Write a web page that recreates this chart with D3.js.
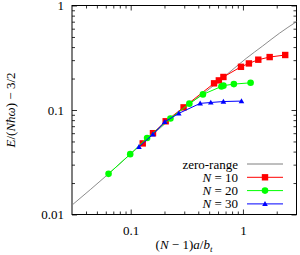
<!DOCTYPE html>
<html>
<head>
<meta charset="utf-8">
<script src="https://cdn.jsdelivr.net/npm/d3@7"></script>
<style>
  html, body { margin: 0; padding: 0; background: #fff; }
</style>
</head>
<body>
<div id="chart"></div>
<script>
const svgWidth = 300;
const svgHeight = 255;

// zero-range curve
const zeroX = [0.03, 0.0635, 0.1, 0.2, 0.3, 0.55, 0.767, 1.07, 1.5, 2.11, 3.0];
const zeroY = [0.0123, 0.0245, 0.038, 0.073, 0.105, 0.172, 0.232, 0.312, 0.41, 0.542, 0.70];

const n10X = [0.128, 0.158, 0.205, 0.296, 0.553, 0.61, 0.67, 0.96, 1.13, 1.37, 1.73, 2.38];
const n10Y = [0.0479, 0.060, 0.078, 0.106, 0.180, 0.192, 0.207, 0.259, 0.279, 0.303, 0.321, 0.336];

const n20X = [0.0635, 0.099, 0.14, 0.226, 0.333, 0.44, 0.643, 0.67, 0.83, 1.17];
const n20Y = [0.0245, 0.0378, 0.0540, 0.083, 0.115, 0.141, 0.168, 0.171, 0.177, 0.182];

const n30X = [0.1185, 0.1575, 0.201, 0.268, 0.416, 0.517, 0.67, 0.97];
const n30Y = [0.0444, 0.0584, 0.077, 0.0928, 0.1157, 0.118, 0.1205, 0.1217];

const xMajor = [0.1, 1];
const yMajor = [0.01, 0.1, 1];
const xTickLabels = ["0.1", "1"];
const yTickLabels = ["0.01", "0.1", "1"];

const legendNames = ["zero-range", "10", "20", "30"];

const x = d3.scaleLog().domain([0.03, 3]).range([72, 296.5]);
const y = d3.scaleLog().domain([0.01, 1]).range([214.5, 5.5]);

const svg = d3.select("#chart").append("svg")
    .attr("width", svgWidth)
    .attr("height", svgHeight)
    .attr("font-family", "'Liberation Serif', 'DejaVu Serif', serif")
    .attr("font-size", 13);

// minor ticks: 2..9 of every decade inside the domain
function minors(scale) {
    const [a, b] = scale.domain();
    const out = [];
    for (let e = -3; e <= 1; e++) {
        for (let k = 2; k <= 9; k++) {
            const v = k * Math.pow(10, e);
            if (v > a * 1.0001 && v < b * 0.9999) out.push(v);
        }
    }
    return out;
}

function drawAxes() {
    const [x0, x1] = x.range();
    const [y0, y1] = y.range();

    const sides = [
        { ax: d3.axisBottom(x), tr: `translate(0,${y0})`, maj: xMajor, labels: xTickLabels, pad: 11 },
        { ax: d3.axisTop(x), tr: `translate(0,${y1})`, maj: xMajor, labels: null },
        { ax: d3.axisLeft(y), tr: `translate(${x0},0)`, maj: yMajor, labels: yTickLabels, pad: 8 },
        { ax: d3.axisRight(y), tr: `translate(${x1},0)`, maj: yMajor, labels: null }
    ];

    sides.forEach(s => {
        const scale = s.ax.scale();
        const gMin = svg.append("g").attr("transform", s.tr)
            .call(s.ax.tickValues(minors(scale)).tickSize(-3).tickFormat(""));
        gMin.select(".domain").remove();

        const axMaj = s.ax.tickValues(s.maj).tickSize(-5)
            .tickFormat((d, i) => s.labels ? s.labels[i] : "")
            .tickPadding(s.pad || 3);
        const gMaj = svg.append("g").attr("transform", s.tr).call(axMaj);
        gMaj.select(".domain").remove();
        gMaj.attr("font-family", null).attr("font-size", null);
        gMaj.selectAll("text").attr("fill", "#000");
        if (!s.labels) gMaj.selectAll("text").remove();
    });
    svg.selectAll("g").attr("font-family", null).attr("font-size", null);

    svg.selectAll(".tick line").attr("stroke", "#000").attr("stroke-width", 0.8);

    svg.append("rect")
        .attr("x", x0).attr("y", y1)
        .attr("width", x1 - x0).attr("height", y0 - y1)
        .attr("fill", "none").attr("stroke", "#000").attr("stroke-width", 1);
}

function drawData() {
    const line = d3.line().x(d => x(d[0])).y(d => y(d[1]));
    const zero = d3.line().x(d => x(d[0])).y(d => y(d[1])).curve(d3.curveMonotoneX);

    const plot = svg.append("g");
    plot.append("path")
        .datum(d3.zip(zeroX, zeroY))
        .attr("d", zero)
        .attr("fill", "none").attr("stroke", "#7f7f7f").attr("stroke-width", 0.9);

    const series = [
        { xs: n10X, ys: n10Y, color: "#ff0000", shape: "square" },
        { xs: n20X, ys: n20Y, color: "#00ff00", shape: "circle" },
        { xs: n30X, ys: n30Y, color: "#0000ff", shape: "tri" }
    ];
    series.forEach(s => {
        const pts = d3.zip(s.xs, s.ys);
        plot.append("path").datum(pts).attr("d", line)
            .attr("fill", "none").attr("stroke", s.color).attr("stroke-width", 1);
        pts.forEach(p => marker(plot, x(p[0]), y(p[1]), s.shape, s.color));
    });
}

function marker(g, cx, cy, shape, color) {
    if (shape === "square") {
        g.append("rect").attr("x", cx - 3.2).attr("y", cy - 3.2)
            .attr("width", 6.4).attr("height", 6.4).attr("fill", color);
    } else if (shape === "circle") {
        g.append("circle").attr("cx", cx).attr("cy", cy).attr("r", 3.3).attr("fill", color);
    } else {
        const s = 2.8;
        g.append("path")
            .attr("d", `M${cx},${cy - s}L${cx + s},${cy + s * 0.75}L${cx - s},${cy + s * 0.75}Z`)
            .attr("fill", color);
    }
}

function drawLegend() {
    const rows = [
        { shape: null, color: "#7f7f7f" },
        { shape: "square", color: "#ff0000" },
        { shape: "circle", color: "#00ff00" },
        { shape: "tri", color: "#0000ff" }
    ];
    const textX = 238, lx0 = 247, lx1 = 283, top = 164, step = 13.3;
    rows.forEach((r, i) => {
        const yy = top + i * step;
        const t = svg.append("text").attr("x", textX).attr("y", yy + 4.5).attr("text-anchor", "end");
        if (i === 0) {
            t.text(legendNames[0]);
        } else {
            t.append("tspan").attr("font-style", "italic").text("N");
            t.append("tspan").text(" = " + legendNames[i]);
        }
        svg.append("line").attr("x1", lx0).attr("x2", lx1).attr("y1", yy).attr("y2", yy)
            .attr("stroke", r.color).attr("stroke-width", 1);
        if (r.shape) marker(svg, (lx0 + lx1) / 2, yy, r.shape, r.color);
    });
}

function drawLabels() {
    const xl = svg.append("text").attr("x", 184).attr("y", 249).attr("text-anchor", "middle");
    xl.append("tspan").text("(");
    xl.append("tspan").attr("font-style", "italic").text("N");
    xl.append("tspan").text(" − 1)");
    xl.append("tspan").attr("font-style", "italic").text("a");
    xl.append("tspan").text("/");
    xl.append("tspan").attr("font-style", "italic").text("b");
    xl.append("tspan").attr("font-style", "italic").attr("font-size", 9).attr("dy", 3).text("t");

    const yl = svg.append("text")
        .attr("transform", "translate(15,110) rotate(-90)")
        .attr("text-anchor", "middle");
    yl.append("tspan").attr("font-style", "italic").text("E");
    yl.append("tspan").text("/(");
    yl.append("tspan").attr("font-style", "italic").text("Nħω");
    yl.append("tspan").text(") − 3/2");
}

drawAxes();
drawData();
drawLegend();
drawLabels();
</script>
</body>
</html>
